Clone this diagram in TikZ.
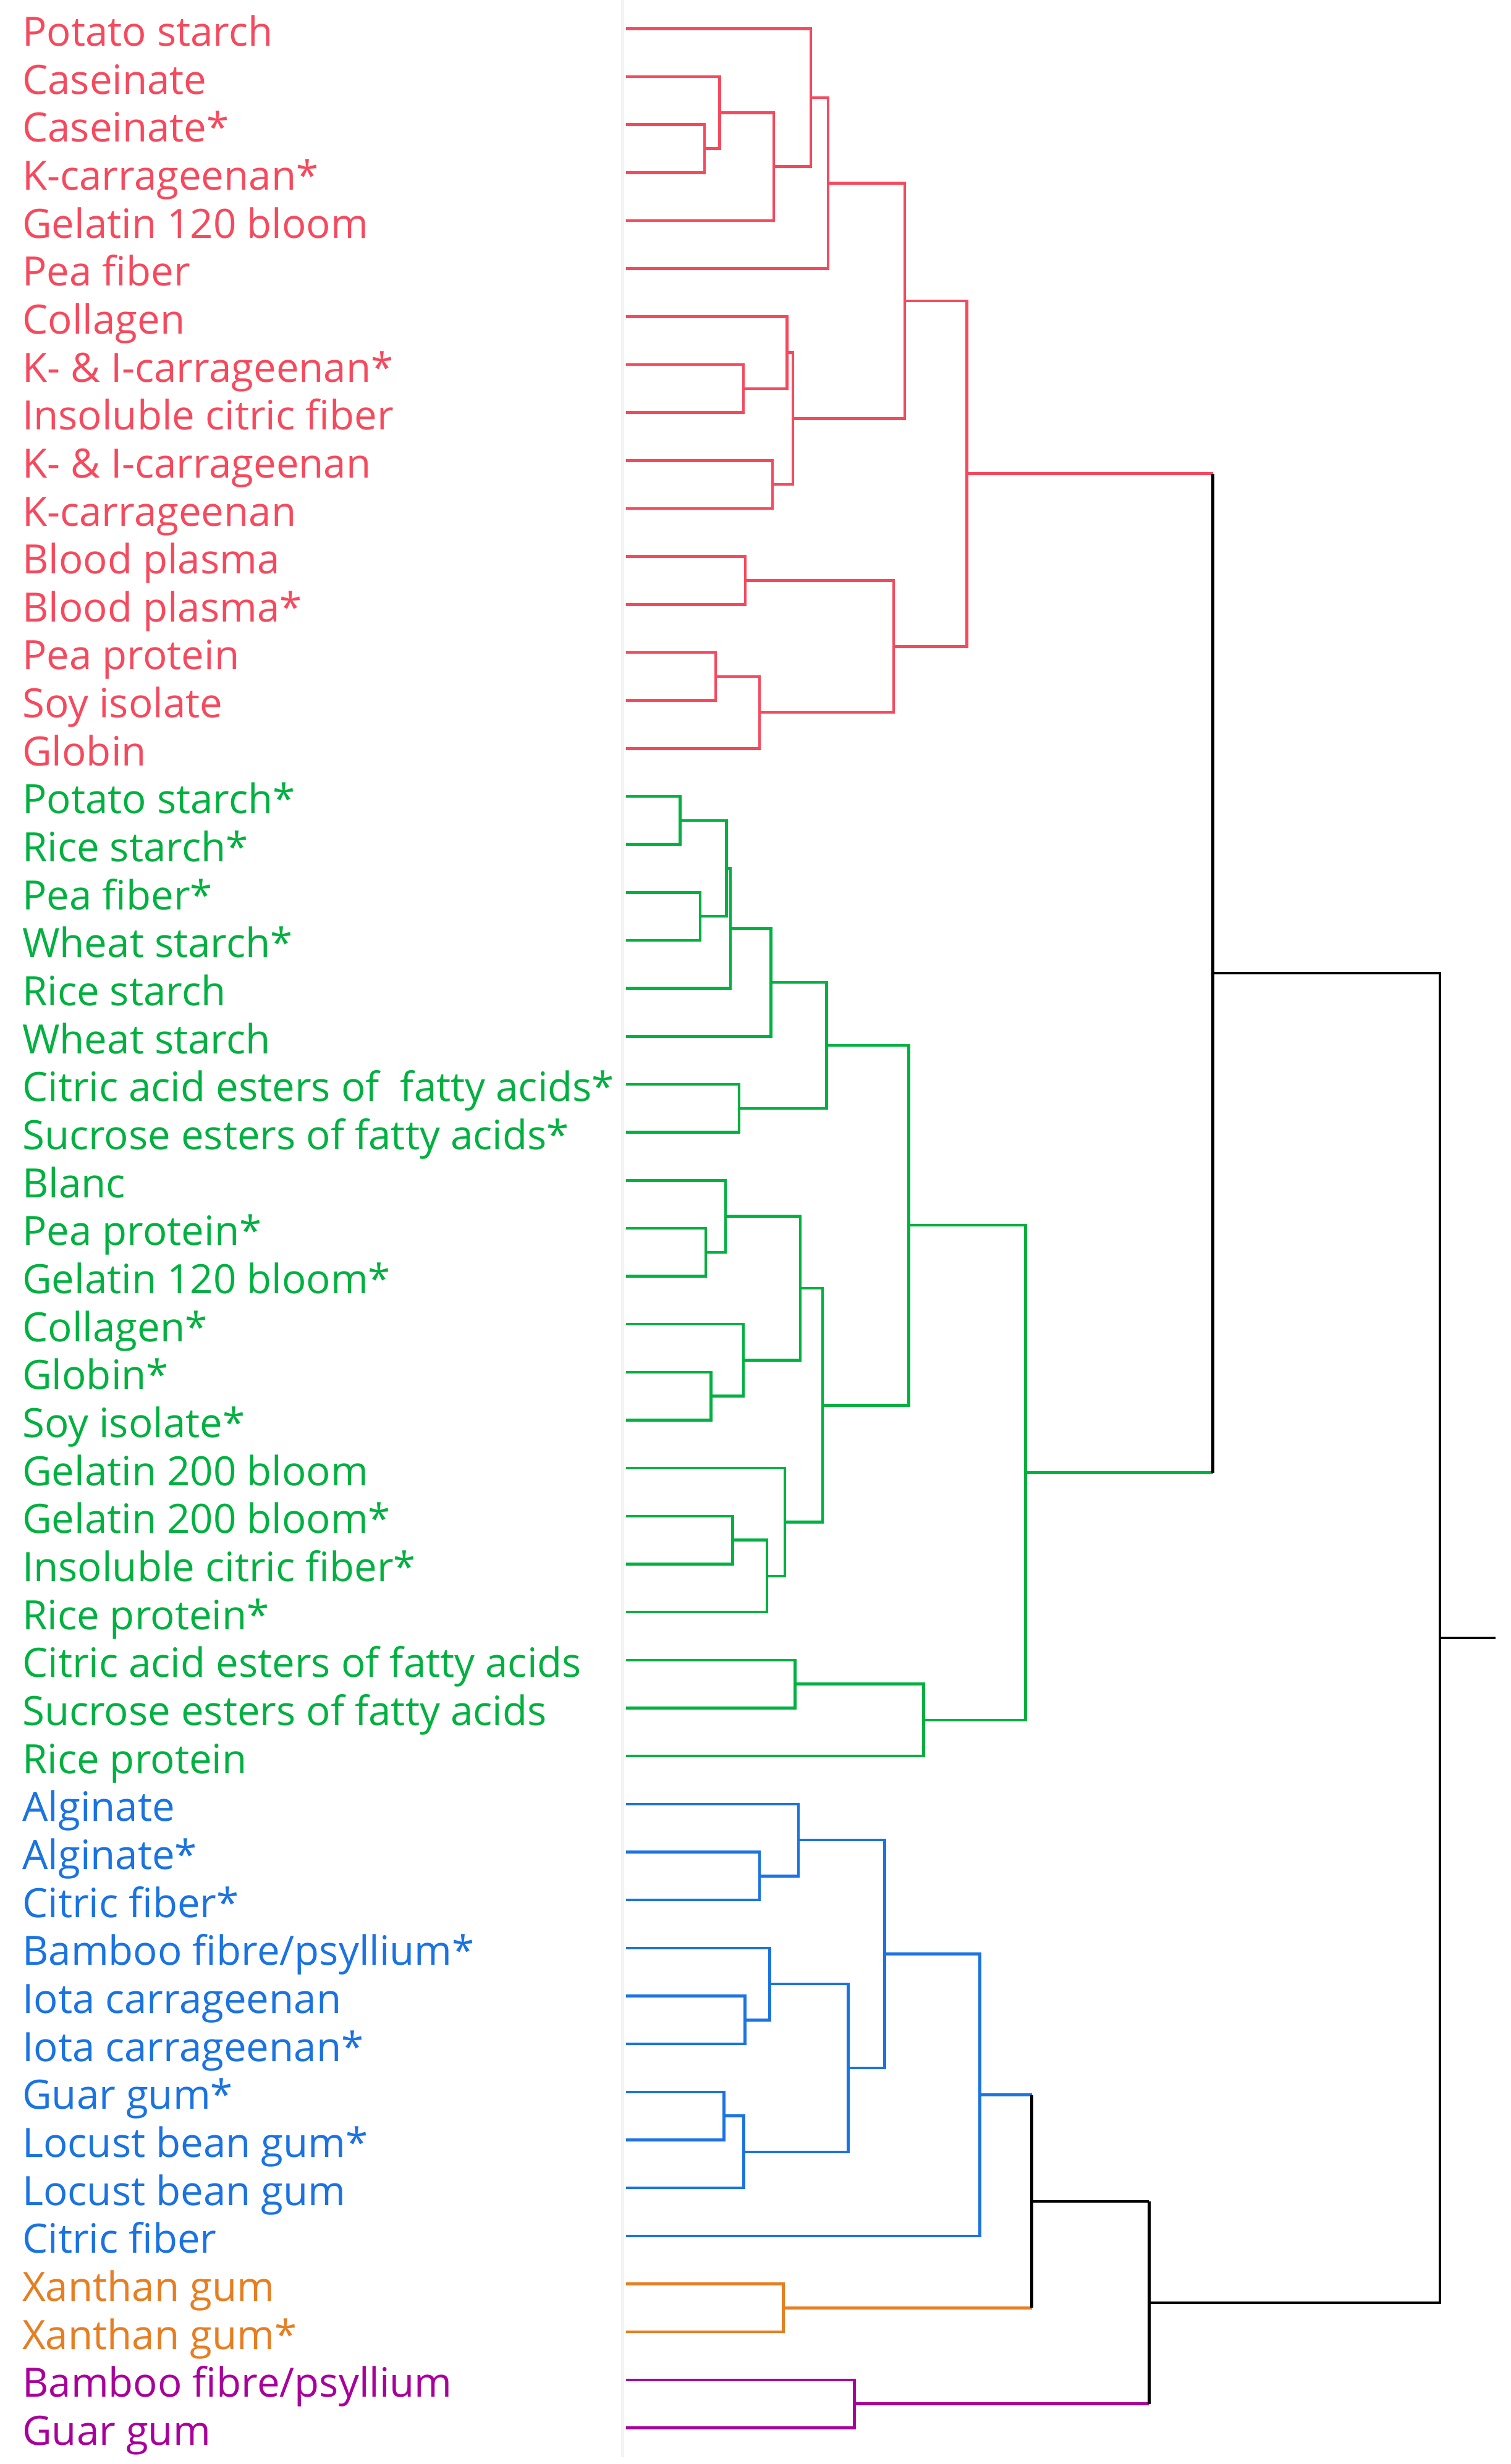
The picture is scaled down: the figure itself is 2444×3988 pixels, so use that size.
\documentclass[tikz,border=0pt]{standalone}
\usepackage{fontspec}
\setmainfont{Open Sans}
\usetikzlibrary{calc}
\definecolor{cr}{HTML}{F54A5E}
\definecolor{cg}{HTML}{00B140}
\definecolor{cb}{HTML}{1A73E0}
\definecolor{co}{HTML}{E67E22}
\definecolor{cp}{HTML}{A8009B}
\definecolor{sep}{HTML}{F3F3F3}
\newcommand\mergeat[4]{\path let \p1=(#3), \p2=(#4) in coordinate (#1) at ({#2*0.01cm},{0.5*(\y1+\y2)});}
\newcommand\ulink[4]{\draw[#1] (#3) -| (#2) |- (#4);}
\begin{document}
\begin{tikzpicture}[x=0.01cm,y=-0.01cm,
  lbl/.style={inner sep=0pt,anchor=base west,font=\fontsize{18.6}{20}\selectfont},
  every path/.style={line width=0.045cm}]
\useasboundingbox (0,0) rectangle (2444,3988);
\fill[white] (0,0) rectangle (2444,3988);
\fill[sep] (1005,0) rectangle (1010,3977);
\foreach \lab [count=\i from 0] in {Potato starch,Caseinate,Caseinate*,K-carrageenan*,Gelatin 120 bloom,Pea fiber,Collagen,K- \& I-carrageenan*,Insoluble citric fiber,K- \& I-carrageenan,K-carrageenan,Blood plasma,Blood plasma*,Pea protein,Soy isolate,Globin,Potato starch*,Rice starch*,Pea fiber*,Wheat starch*,Rice starch,Wheat starch,Citric acid esters of~\ fatty acids*,Sucrose esters of fatty acids*,Blanc,Pea protein*,Gelatin 120 bloom*,Collagen*,Globin*,Soy isolate*,Gelatin 200 bloom,Gelatin 200 bloom*,Insoluble citric fiber*,Rice protein*,Citric acid esters of fatty acids,Sucrose esters of fatty acids,Rice protein,Alginate,Alginate*,Citric fiber*,Bamboo fibre/psyllium*,Iota carrageenan,Iota carrageenan*,Guar gum*,Locust bean gum*,Locust bean gum,Citric fiber,Xanthan gum,Xanthan gum*,Bamboo fibre/psyllium,Guar gum}{
  \pgfmathsetmacro\yy{46.4+77.66*\i}
  \ifnum\i<16 \def\cc{cr}\else\ifnum\i<37 \def\cc{cg}\else\ifnum\i<47 \def\cc{cb}\else\ifnum\i<49 \def\cc{co}\else\def\cc{cp}\fi\fi\fi\fi
  \coordinate (l\i) at (1013,\yy);
  \node[lbl,text=\cc] (t\i) at (34,\yy+28) {\lab};
}
% red cluster
\mergeat{A}{1140}{l2}{l3}
\mergeat{B}{1164.6}{l1}{A}
\mergeat{C}{1251.8}{B}{l4}
\mergeat{D}{1312}{l0}{C}
\mergeat{E}{1339.8}{D}{l5}
\mergeat{J}{1202.8}{l7}{l8}
\mergeat{K}{1273.6}{l6}{J}
\mergeat{L}{1250}{l9}{l10}
\mergeat{M}{1283.2}{K}{L}
\mergeat{F}{1464.2}{E}{M}
\mergeat{N}{1205.9}{l11}{l12}
\mergeat{O}{1158}{l13}{l14}
\mergeat{P}{1228.9}{O}{l15}
\mergeat{Q}{1446.2}{N}{P}
\mergeat{H}{1564.5}{F}{Q}
% green cluster
\mergeat{R}{1100.3}{l16}{l17}
\mergeat{S}{1132.8}{l18}{l19}
\mergeat{T}{1175.3}{R}{S}
\mergeat{U}{1181.8}{T}{l20}
\mergeat{V}{1247.6}{U}{l21}
\mergeat{W}{1196}{l22}{l23}
\mergeat{X}{1337.5}{V}{W}
\mergeat{AA}{1142}{l25}{l26}
\mergeat{AB}{1174.1}{l24}{AA}
\mergeat{AC}{1150.4}{l28}{l29}
\mergeat{AD}{1203.2}{l27}{AC}
\mergeat{AE}{1295.1}{AB}{AD}
\mergeat{AF}{1185.6}{l31}{l32}
\mergeat{AG}{1241.1}{AF}{l33}
\mergeat{AH}{1269.8}{l30}{AG}
\mergeat{AI}{1331}{AE}{AH}
\mergeat{Y}{1470.7}{X}{AI}
\mergeat{DD}{1286.6}{l34}{l35}
\mergeat{CC}{1494.5}{DD}{l36}
\mergeat{BB}{1659.7}{Y}{CC}
% blue cluster
\mergeat{GG}{1228.9}{l38}{l39}
\mergeat{HH}{1292}{l37}{GG}
\mergeat{II}{1205.5}{l41}{l42}
\mergeat{JJ}{1245.3}{l40}{II}
\mergeat{KK}{1171.5}{l43}{l44}
\mergeat{LL}{1203.6}{KK}{l45}
\mergeat{MM}{1372.4}{JJ}{LL}
\mergeat{NN}{1431.3}{HH}{MM}
\mergeat{OO}{1585.5}{NN}{l46}
% orange, purple
\mergeat{PP}{1267.5}{l47}{l48}
\mergeat{RR}{1382.7}{l49}{l50}
% black
\mergeat{EE}{1962.6}{H}{BB}
\mergeat{QQ}{1669.6}{OO}{PP}
\mergeat{FF}{1859.4}{QQ}{RR}
\mergeat{ROOT}{2330}{EE}{FF}
\coordinate (stub) at ($(ROOT)+(90,0)$);
% draw red
\ulink{cr}{A}{l2}{l3}
\ulink{cr}{B}{l1}{A}
\ulink{cr}{C}{B}{l4}
\ulink{cr}{D}{l0}{C}
\ulink{cr}{E}{D}{l5}
\ulink{cr}{J}{l7}{l8}
\ulink{cr}{K}{l6}{J}
\ulink{cr}{L}{l9}{l10}
\ulink{cr}{M}{K}{L}
\ulink{cr}{F}{E}{M}
\ulink{cr}{N}{l11}{l12}
\ulink{cr}{O}{l13}{l14}
\ulink{cr}{P}{O}{l15}
\ulink{cr}{Q}{N}{P}
\ulink{cr}{H}{F}{Q}
% draw green
\ulink{cg}{R}{l16}{l17}
\ulink{cg}{S}{l18}{l19}
\ulink{cg}{T}{R}{S}
\ulink{cg}{U}{T}{l20}
\ulink{cg}{V}{U}{l21}
\ulink{cg}{W}{l22}{l23}
\ulink{cg}{X}{V}{W}
\ulink{cg}{AA}{l25}{l26}
\ulink{cg}{AB}{l24}{AA}
\ulink{cg}{AC}{l28}{l29}
\ulink{cg}{AD}{l27}{AC}
\ulink{cg}{AE}{AB}{AD}
\ulink{cg}{AF}{l31}{l32}
\ulink{cg}{AG}{AF}{l33}
\ulink{cg}{AH}{l30}{AG}
\ulink{cg}{AI}{AE}{AH}
\ulink{cg}{Y}{X}{AI}
\ulink{cg}{DD}{l34}{l35}
\ulink{cg}{CC}{DD}{l36}
\ulink{cg}{BB}{Y}{CC}
% draw blue
\ulink{cb}{GG}{l38}{l39}
\ulink{cb}{HH}{l37}{GG}
\ulink{cb}{II}{l41}{l42}
\ulink{cb}{JJ}{l40}{II}
\ulink{cb}{KK}{l43}{l44}
\ulink{cb}{LL}{KK}{l45}
\ulink{cb}{MM}{JJ}{LL}
\ulink{cb}{NN}{HH}{MM}
\ulink{cb}{OO}{NN}{l46}
\ulink{co}{PP}{l47}{l48}
\ulink{cp}{RR}{l49}{l50}
% black links
\draw[cr] (H) -- (H -| EE);
\draw[cg] (BB) -- (BB -| EE);
\draw[black] (H -| EE) -- (BB -| EE);
\draw[cb] (OO) -- (OO -| QQ);
\draw[co] (PP) -- (PP -| QQ);
\draw[black] (OO -| QQ) -- (PP -| QQ);
\draw[black] (QQ) -- (QQ -| FF);
\draw[cp] (RR) -- (RR -| FF);
\draw[black] (QQ -| FF) -- (RR -| FF);
\ulink{black}{ROOT}{EE}{FF}
\draw[black] (ROOT) -- (stub);
\end{tikzpicture}
\end{document}
